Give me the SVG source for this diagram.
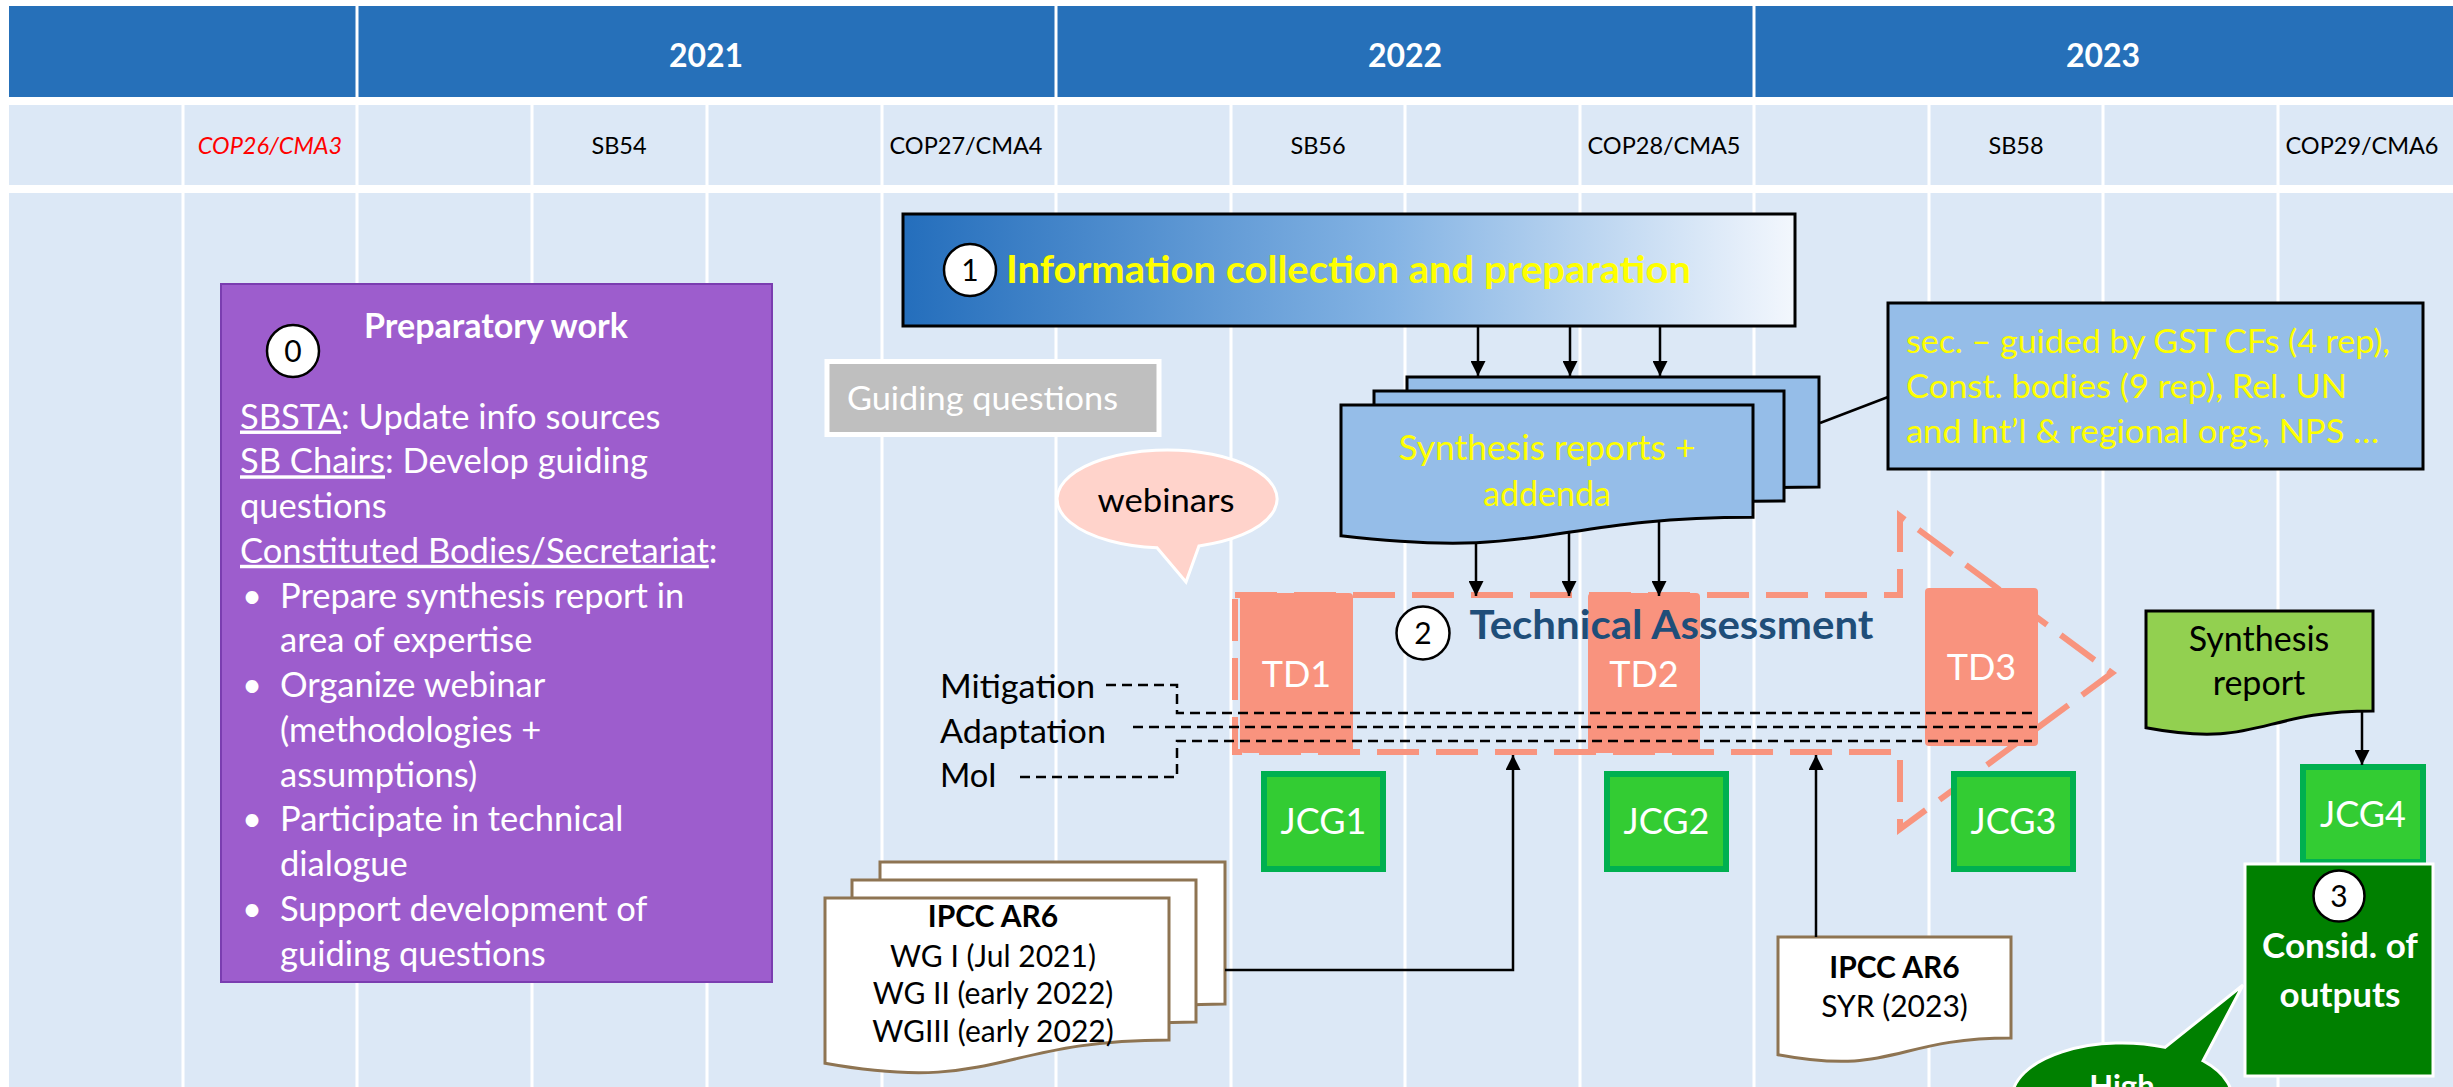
<svg xmlns="http://www.w3.org/2000/svg" width="2453" height="1087" viewBox="0 0 2453 1087">
<defs>
<linearGradient id="g1" x1="0" y1="0" x2="1" y2="0">
<stop offset="0" stop-color="#246EBC"/>
<stop offset="0.55" stop-color="#85B4E4"/>
<stop offset="1" stop-color="#F3F7FD"/>
</linearGradient>
<marker id="ah" viewBox="0 0 10 10" refX="10" refY="5" markerWidth="15" markerHeight="15" markerUnits="userSpaceOnUse" orient="auto"><path d="M0,0 L10,5 L0,10 Z" fill="#000"/></marker>
<style>
text{font-family:Lato,"Liberation Sans",sans-serif}
.yr{font-size:32px;font-weight:bold;fill:#fff;text-anchor:middle}
.mt{font-size:23.5px;fill:#000;text-anchor:middle}
.body{font-size:34.5px;fill:#fff}
.num{font-size:30px;fill:#000;text-anchor:middle}
.circ{fill:#fff;stroke:#000;stroke-width:2.5}
.doc{fill:#95BDE8;stroke:#000;stroke-width:3}
.yel{fill:#FFFF00}
.td{fill:#F9937E}
.tdt{font-size:36px;fill:#fff;text-anchor:middle}
.jcg{fill:#33CC33;stroke:#00B050;stroke-width:6}
.ipcc{fill:#fff;stroke:#8E7452;stroke-width:3}
.ip{font-size:30px;fill:#000;text-anchor:middle}
.con{fill:none;stroke:#000;stroke-width:2.5}
.dash{fill:none;stroke:#000;stroke-width:2.5;stroke-dasharray:10 6}
.lab{font-size:33px;fill:#000}
.vl{stroke:#fff;stroke-width:3}
</style>
</defs>
<rect width="2453" height="1087" fill="#fff"/>
<g id="table">
<rect x="9" y="6" width="2444" height="91" fill="#2670B9"/>
<rect x="9" y="105" width="2444" height="80" fill="#DCE8F6"/>
<rect x="9" y="193" width="2444" height="894" fill="#DCE8F6"/>
<g class="vl">
<line x1="357" y1="6" x2="357" y2="97"/><line x1="1056" y1="6" x2="1056" y2="97"/><line x1="1754" y1="6" x2="1754" y2="97"/>
<line x1="183" y1="105" x2="183" y2="1087"/><line x1="357" y1="105" x2="357" y2="1087"/><line x1="532" y1="105" x2="532" y2="1087"/>
<line x1="707" y1="105" x2="707" y2="1087"/><line x1="882" y1="105" x2="882" y2="1087"/><line x1="1056" y1="105" x2="1056" y2="1087"/>
<line x1="1231" y1="105" x2="1231" y2="1087"/><line x1="1405" y1="105" x2="1405" y2="1087"/><line x1="1580" y1="105" x2="1580" y2="1087"/>
<line x1="1754" y1="105" x2="1754" y2="1087"/><line x1="1929" y1="105" x2="1929" y2="1087"/><line x1="2103" y1="105" x2="2103" y2="1087"/>
<line x1="2278" y1="105" x2="2278" y2="1087"/>
</g>
<text class="yr" x="706" y="67">2021</text>
<text class="yr" x="1405" y="67">2022</text>
<text class="yr" x="2103" y="67">2023</text>
<text class="mt" x="270" y="154" style="fill:#FF0000;font-style:italic">COP26/CMA3</text>
<text class="mt" x="619" y="154">SB54</text>
<text class="mt" x="966" y="154">COP27/CMA4</text>
<text class="mt" x="1318" y="154">SB56</text>
<text class="mt" x="1664" y="154">COP28/CMA5</text>
<text class="mt" x="2016" y="154">SB58</text>
<text class="mt" x="2362" y="154">COP29/CMA6</text>
</g>
<g id="prep">
<rect x="221" y="284" width="551" height="698" fill="#9D5DCD" stroke="#7A3DB0" stroke-width="2"/>
<circle class="circ" cx="293" cy="351" r="26"/>
<text class="num" x="293" y="362">0</text>
<text x="496" y="338" style="font-size:34px;font-weight:bold;fill:#fff;text-anchor:middle">Preparatory work</text>
<text class="body" x="240" y="428.5"><tspan text-decoration="underline">SBSTA</tspan>: Update info sources</text>
<text class="body" x="240" y="473.3"><tspan text-decoration="underline">SB Chairs</tspan>: Develop guiding</text>
<text class="body" x="240" y="518">questions</text>
<text class="body" x="240" y="562.8"><tspan text-decoration="underline">Constituted Bodies/Secretariat</tspan>:</text>
<text class="body" x="242" y="607.5">•</text><text class="body" x="280" y="607.5">Prepare synthesis report in</text>
<text class="body" x="280" y="652.3">area of expertise</text>
<text class="body" x="242" y="697">•</text><text class="body" x="280" y="697">Organize webinar</text>
<text class="body" x="280" y="741.8">(methodologies +</text>
<text class="body" x="280" y="786.5">assumptions)</text>
<text class="body" x="242" y="831.3">•</text><text class="body" x="280" y="831.3">Participate in technical</text>
<text class="body" x="280" y="876">dialogue</text>
<text class="body" x="242" y="920.8">•</text><text class="body" x="280" y="920.8">Support development of</text>
<text class="body" x="280" y="965.5">guiding questions</text>
</g>
<g id="info">
<rect x="903" y="214" width="892" height="112" fill="url(#g1)" stroke="#000" stroke-width="3"/>
<circle class="circ" cx="970" cy="270" r="26"/>
<text class="num" x="970" y="281">1</text>
<text x="1006" y="283" textLength="685" lengthAdjust="spacingAndGlyphs" style="font-size:38px;font-weight:bold;fill:#FFFF00">Information collection and preparation</text>
</g>
<g id="guiding">
<rect x="827" y="361.5" width="332" height="73" fill="#BFBFBF" stroke="#fff" stroke-width="5"/>
<text x="847" y="410" textLength="271" lengthAdjust="spacingAndGlyphs" style="font-size:33px;fill:#fff">Guiding questions</text>
</g>
<g id="webinars">
<path d="M1157,547.8 A110,49 0 1 1 1199,545.9 L1186,582 Z" fill="#FFD3CB" stroke="#fff" stroke-width="3"/>
<text x="1166" y="512" text-anchor="middle" textLength="137" lengthAdjust="spacingAndGlyphs" style="font-size:33px;fill:#000">webinars</text>
</g>
<g id="synthesis-reports">
<path class="doc" d="M1407,377 H1819 V487 C1613,487 1613,528.7 1407,505 Z"/>
<path class="doc" d="M1374,391 H1784 V501 C1579,501 1579,542.7 1374,519 Z"/>
<path class="doc" d="M1341,405 H1753 V517.3 C1547,517.3 1547,560 1341,535.8 Z"/>
<text x="1547" y="460" text-anchor="middle" textLength="297" lengthAdjust="spacingAndGlyphs" class="yel" style="font-size:34px">Synthesis reports +</text>
<text x="1547" y="506" text-anchor="middle" class="yel" style="font-size:34px">addenda</text>
</g>
<g id="callout">
<rect x="1888" y="303" width="535" height="166" fill="#95BDE8" stroke="#000" stroke-width="3"/>
<text x="1906" y="353" textLength="484" lengthAdjust="spacingAndGlyphs" class="yel" style="font-size:33px">sec. – guided by GST CFs (4 rep),</text>
<text x="1906" y="398" textLength="441" lengthAdjust="spacingAndGlyphs" class="yel" style="font-size:33px">Const. bodies (9 rep), Rel. UN</text>
<text x="1906" y="443" textLength="473" lengthAdjust="spacingAndGlyphs" class="yel" style="font-size:33px">and Int’l &amp; regional orgs, NPS …</text>
</g>
<g id="tech-assessment">
<path d="M1235,595 H1900 V516 L2112,673 L1900,829 V752 H1235 Z" fill="none" stroke="#F8947E" stroke-width="6" stroke-dasharray="42 17"/>
</g>
<g id="td1"><rect class="td" x="1240" y="593" width="113" height="160" rx="4"/><text class="tdt" x="1296.5" y="687">TD1</text></g>
<g id="td2"><rect class="td" x="1588" y="593" width="112" height="160" rx="4"/><text class="tdt" x="1644" y="687">TD2</text></g>
<g id="td3"><rect class="td" x="1925" y="588" width="113" height="158" rx="4"/><text class="tdt" x="1981.5" y="680">TD3</text></g>
<g id="ta-label">
<circle class="circ" cx="1423" cy="633" r="26.5"/>
<text class="num" x="1423" y="644">2</text>
<text x="1469.5" y="639" textLength="404" lengthAdjust="spacingAndGlyphs" style="font-size:40px;font-weight:bold;fill:#1F4E79">Technical Assessment</text>
</g>
<g id="jcg1"><rect class="jcg" x="1264" y="774" width="119" height="95"/><text class="tdt" x="1323.5" y="834">JCG1</text></g>
<g id="jcg2"><rect class="jcg" x="1607" y="774" width="119" height="95"/><text class="tdt" x="1666.5" y="834">JCG2</text></g>
<g id="jcg3"><rect class="jcg" x="1954" y="774" width="119" height="95"/><text class="tdt" x="2013.5" y="834">JCG3</text></g>
<g id="jcg4"><rect class="jcg" x="2303" y="767" width="120" height="95"/><text class="tdt" x="2363" y="827">JCG4</text></g>
<g id="themes">
<text class="lab" x="940" y="698" textLength="155" lengthAdjust="spacingAndGlyphs">Mitigation</text>
<text class="lab" x="940" y="742.5" textLength="166" lengthAdjust="spacingAndGlyphs">Adaptation</text>
<text class="lab" x="940" y="787" textLength="57" lengthAdjust="spacingAndGlyphs">MoI</text>
</g>
<g id="synthesis-report">
<path d="M2146,611 H2373 V711 C2259.5,711 2259.5,749 2146,727.8 Z" fill="#92D050" stroke="#000" stroke-width="3"/>
<text x="2259" y="651" text-anchor="middle" style="font-size:34px;fill:#000">Synthesis</text>
<text x="2259" y="694.5" text-anchor="middle" style="font-size:34px;fill:#000">report</text>
</g>
<g id="consid">
<rect x="2245" y="864" width="188" height="212" fill="#008000" stroke="#fff" stroke-width="3"/>
<circle class="circ" cx="2339" cy="896" r="25.5"/>
<text class="num" x="2339" y="907">3</text>
<text x="2340" y="958" text-anchor="middle" style="font-size:35px;font-weight:bold;fill:#fff">Consid. of</text>
<text x="2340" y="1007" text-anchor="middle" style="font-size:35px;font-weight:bold;fill:#fff">outputs</text>
</g>
<g id="high">
<path d="M2165,1047.4 L2243,985 L2203,1060.8 A110,55 0 1 1 2165,1047.4 Z" fill="#008000" stroke="#fff" stroke-width="3"/>
<text x="2122" y="1097" text-anchor="middle" style="font-size:31px;font-weight:bold;fill:#fff">High</text>
</g>
<g id="ipcc-ar6">
<path class="ipcc" d="M880,862 H1225 V1004 C1052.5,1004 1052.5,1058 880,1027.3 Z"/>
<path class="ipcc" d="M852,880 H1196 V1022 C1024,1022 1024,1076 852,1045.3 Z"/>
<path class="ipcc" d="M825,898 H1169 V1040 C997,1040 997,1094 825,1063.3 Z"/>
<text class="ip" x="993" y="927" style="font-weight:bold">IPCC AR6</text>
<text class="ip" x="993" y="967">WG I (Jul 2021)</text>
<text class="ip" x="993" y="1004">WG II (early 2022)</text>
<text class="ip" x="993" y="1042">WGIII (early 2022)</text>
</g>
<g id="ipcc-syr">
<path class="ipcc" d="M1778,937 H2011 V1038 C1894.5,1038 1894.5,1076.5 1778,1054.7 Z"/>
<text class="ip" x="1894.5" y="978" style="font-weight:bold">IPCC AR6</text>
<text class="ip" x="1894.5" y="1017">SYR (2023)</text>
</g>
<g id="connectors">
<line class="con" x1="1478" y1="326" x2="1478" y2="376" marker-end="url(#ah)"/>
<line class="con" x1="1570" y1="326" x2="1570" y2="376" marker-end="url(#ah)"/>
<line class="con" x1="1660" y1="326" x2="1660" y2="376" marker-end="url(#ah)"/>
<line class="con" x1="1820" y1="423" x2="1888" y2="397"/>
<line class="con" x1="1476" y1="543" x2="1476" y2="596" marker-end="url(#ah)"/>
<line class="con" x1="1569" y1="532" x2="1569" y2="596" marker-end="url(#ah)"/>
<line class="con" x1="1659" y1="520" x2="1659" y2="596" marker-end="url(#ah)"/>
<path class="dash" d="M1106,685 H1177 V713 H2037"/>
<path class="dash" d="M1133,727 H2037"/>
<path class="dash" d="M1020,777 H1177 V741 H2032"/>
<path class="con" d="M1225,970 H1513 V755" stroke-width="3" marker-end="url(#ah)"/>
<path class="con" d="M1816,937 V755" marker-end="url(#ah)"/>
<line class="con" x1="2362" y1="711" x2="2362" y2="765" marker-end="url(#ah)"/>
</g>
</svg>
